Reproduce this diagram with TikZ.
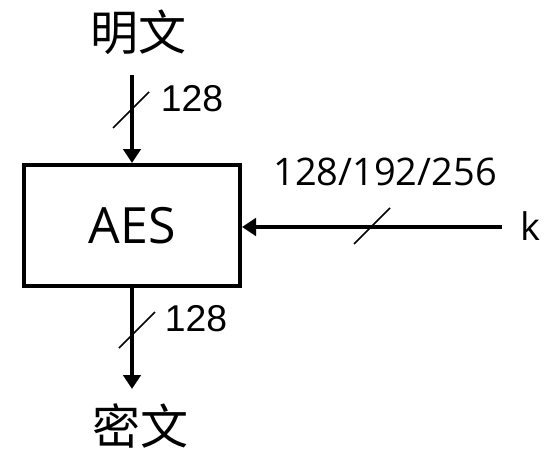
\documentclass[tikz,border=0pt]{standalone}
\usepackage{fontspec}
\setmainfont{Open Sans}
\newfontfamily\cjk{Noto Sans CJK SC}
\newfontfamily\arialfont{Liberation Sans}
\usetikzlibrary{arrows.meta,positioning}
\tikzset{
	bus/.style={-{Triangle[length=10.5pt,width=13pt]},line width=3pt},
	bus slash/.style={line width=1.1pt},
	width label/.style={font=\arialfont\fontsize{28}{30}\selectfont,inner sep=0pt}
}

\begin{document}
\begin{tikzpicture}[
			x=0.75pt, y=-0.75pt,
			block/.style = {rectangle, draw = black, line width = 3pt, minimum width = 162pt, minimum height = 90.75pt, inner sep = 0pt, font = \fontsize{37.5}{40}\selectfont},
			word/.style = {inner sep = 0pt, font = \cjk\fontsize{36}{40}\selectfont},
		]
			\useasboundingbox (0,0) rectangle (555,449);

			\node [block] (aes) at (132, 225.5) {AES};
			\node [word] (pt) at (138, 32) {明文};
			\node [word] (ct) at (140, 426) {密文};
			\node [inner sep = 0pt, font = \fontsize{28.5}{30}\selectfont] (k) at (530, 226) {k};

			\coordinate (ptin) at (132, 75);
			\coordinate (ctout) at (132, 389);
			\coordinate (kin) at (502, 227);

			\draw [bus] (ptin) -- (aes.north);
			\draw [bus] (aes.south) -- (ctout);
			\draw [bus] (kin) -- (aes.east |- kin);

			% slashes across the buses
			\coordinate (s1) at (131, 110);
			\coordinate (s2) at (137, 330);
			\coordinate (s3) at (372, 226);
			\foreach\s in {s1,s2,s3}{
				\draw [bus slash] ([shift={(-18,18)}]\s) -- ([shift={(18,-18)}]\s);
			}

			\node [width label] (w1) at (192, 99) {128};
			\node [width label] (w2) at (196, 319) {128};
			\node [inner sep = 0pt, font = \fontsize{28.5}{30}\selectfont] (w3) at (385, 172) {128/192/256};
		\end{tikzpicture}
\end{document}
